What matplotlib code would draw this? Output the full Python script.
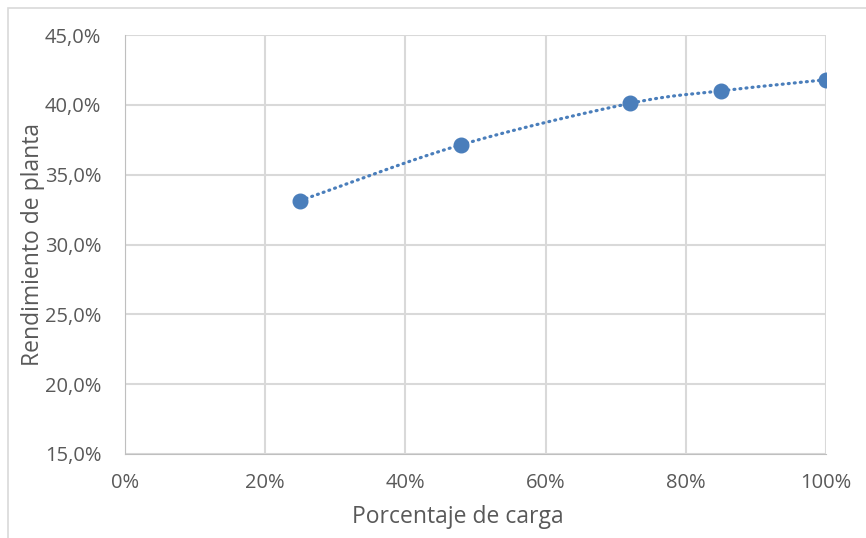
import numpy as np
import matplotlib.pyplot as plt
from matplotlib.ticker import FuncFormatter
from matplotlib.patches import Rectangle

carga = [0.25, 0.48, 0.72, 0.85, 1.00]
rendimiento = [0.3315, 0.3715, 0.4010, 0.4100, 0.4180]

azul = '#4a7ebb'
gris = '#595959'
rejilla = '#d9d9d9'


def suavizar(x, y, n=40):
    # curva Catmull-Rom entre puntos consecutivos
    p = np.column_stack([x, y])
    p = np.vstack([2 * p[0] - p[1], p, 2 * p[-1] - p[-2]])
    out = []
    t = np.linspace(0, 1, n)[:, None]
    for i in range(1, len(p) - 2):
        p0, p1, p2, p3 = p[i - 1], p[i], p[i + 1], p[i + 2]
        seg = 0.5 * ((2 * p1) + (-p0 + p2) * t + (2 * p0 - 5 * p1 + 4 * p2 - p3) * t ** 2
                     + (-p0 + 3 * p1 - 3 * p2 + p3) * t ** 3)
        out.append(seg if i == 1 else seg[1:])
    out = np.vstack(out)
    return out[:, 0], out[:, 1]


plt.rcParams['font.family'] = ['Open Sans', 'DejaVu Sans']

fig = plt.figure(figsize=(8.66, 5.38), dpi=100)
ax = fig.add_axes([125 / 866, 1 - 454 / 538, (826 - 125) / 866, (454 - 35) / 538])

fig.patches.append(Rectangle((8 / 866, -0.1), 1.2, 1 - 8 / 538 + 0.1, transform=fig.transFigure,
                             fill=False, edgecolor=rejilla, linewidth=1.2))

xs, ys = suavizar(carga, rendimiento)
ax.plot(xs, ys, color=azul, linewidth=2.3, linestyle=(0, (0.3, 1.6)),
        dash_capstyle='round', zorder=3)
ax.plot(carga, rendimiento, 'o', color=azul, markersize=10.5, zorder=4)

ax.set_xlim(0, 1)
ax.set_ylim(0.15, 0.45)
ax.set_xticks(np.arange(0, 1.01, 0.2))
ax.set_yticks(np.arange(0.15, 0.451, 0.05))
ax.xaxis.set_major_formatter(FuncFormatter(lambda v, _: f'{v * 100:.0f}%'))
ax.yaxis.set_major_formatter(FuncFormatter(lambda v, _: f'{v * 100:.1f}%'.replace('.', ',')))

ax.grid(True, color=rejilla, linewidth=1.5)
ax.set_axisbelow(True)
for s in ax.spines.values():
    s.set_visible(False)
ax.spines['left'].set_visible(True)
ax.spines['bottom'].set_visible(True)
ax.spines['left'].set_color('#bfbfbf')
ax.spines['bottom'].set_color('#bfbfbf')
ax.tick_params(length=0, labelsize=14.5, colors=gris)
ax.tick_params(axis='y', pad=17)
ax.tick_params(axis='x', pad=14)

ax.set_xlabel('Porcentaje de carga', fontsize=16.5, color=gris)
ax.set_ylabel('Rendimiento de planta', fontsize=16.5, color=gris)
ax.xaxis.set_label_coords(0.475, -0.150)
ax.yaxis.set_label_coords(-0.131, 0.5)
ax.xaxis.label.set_va('center')
ax.yaxis.label.set_va('center')

fig.savefig('out.png', dpi=100)
